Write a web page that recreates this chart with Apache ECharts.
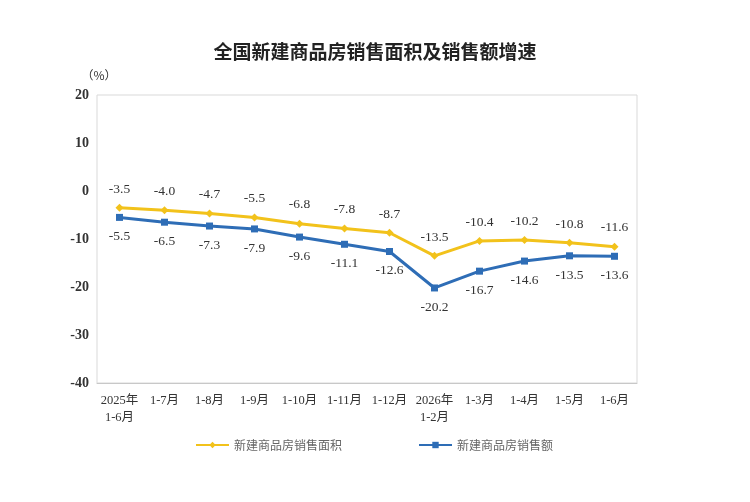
<!DOCTYPE html>
<html>
    <head>
        <meta charset="UTF-8">
        <title></title>
        <script src="https://cdn.jsdelivr.net/npm/echarts@6/dist/echarts.min.js"></script>
        <style>
            html, body { margin: 0; padding: 0; background: #fff; }
            #main { width: 750px; height: 502px; }
        </style>
    </head>
    <body>
        <div id="main"></div>
        <script>
            // 数据
            var categories = ['2025年\n1-6月', '1-7月', '1-8月', '1-9月', '1-10月', '1-11月', '1-12月',
                '2026年\n1-2月', '1-3月', '1-4月', '1-5月', '1-6月'];
            var areaGrowth = [-3.5, -4.0, -4.7, -5.5, -6.8, -7.8, -8.7, -13.5, -10.4, -10.2, -10.8, -11.6];
            var salesGrowth = [-5.5, -6.5, -7.3, -7.9, -9.6, -11.1, -12.6, -20.2, -16.7, -14.6, -13.5, -13.6];
            var seriesNames = ['新建商品房销售面积', '新建商品房销售额'];

            var serif = '"Liberation Serif", "Noto Sans CJK SC", serif';
            var cjk = '"Noto Sans CJK SC", "Liberation Serif", serif';

            var chart = echarts.init(document.getElementById('main'));
            chart.setOption({
                animation: false,
                backgroundColor: '#fff',
                title: {
                    text: '全国新建商品房销售面积及销售额增速',
                    left: 'center',
                    top: 37,
                    textStyle: { fontFamily: cjk, fontSize: 19, fontWeight: 'bold', color: '#222' }
                },
                legend: {
                    data: seriesNames,
                    left: 190,
                    top: 434,
                    itemWidth: 33,
                    itemHeight: 8,
                    itemGap: 76,
                    textStyle: { fontFamily: cjk, fontSize: 12, color: '#666' }
                },
                grid: {
                    left: 97,
                    right: 113,
                    top: 95,
                    bottom: 119,
                    show: true,
                    borderColor: '#d9d9d9',
                    borderWidth: 1
                },
                xAxis: {
                    type: 'category',
                    data: categories,
                    boundaryGap: true,
                    axisLine: { onZero: false, lineStyle: { color: '#c8c8c8' } },
                    axisTick: { inside: true, length: 5, lineStyle: { color: '#c8c8c8' } },
                    axisLabel: {
                        interval: 0, margin: 9, color: '#333',
                        fontFamily: serif, fontSize: 12.5, lineHeight: 17
                    }
                },
                yAxis: {
                    type: 'value',
                    min: -40,
                    max: 20,
                    interval: 10,
                    name: '（%）',
                    nameLocation: 'end',
                    nameGap: 14,
                    nameTextStyle: { fontFamily: cjk, fontSize: 12, color: '#333', padding: [0, 0, 0, 4] },
                    axisLine: { show: false },
                    axisTick: { show: false },
                    splitLine: { show: false },
                    axisLabel: { margin: 8, color: '#333', fontFamily: serif, fontSize: 14, fontWeight: 'bold' }
                },
                series: [{
                    name: seriesNames[0],
                    type: 'line',
                    data: areaGrowth,
                    color: '#F2C21B',
                    symbol: 'diamond',
                    symbolSize: 8,
                    lineStyle: { width: 3, color: '#F2C21B' },
                    label: {
                        show: true, position: 'top', distance: 8,
                        color: '#333', fontFamily: serif, fontSize: 13.5,
                        formatter: function (p) { return p.value.toFixed(1); }
                    }
                }, {
                    name: seriesNames[1],
                    type: 'line',
                    data: salesGrowth,
                    color: '#2E6DB6',
                    symbol: 'rect',
                    symbolSize: 7,
                    lineStyle: { width: 3, color: '#2E6DB6' },
                    label: {
                        show: true, position: 'bottom', distance: 9,
                        color: '#333', fontFamily: serif, fontSize: 13.5,
                        formatter: function (p) { return p.value.toFixed(1); }
                    }
                }]
            });
        </script>
    </body>
</html>
